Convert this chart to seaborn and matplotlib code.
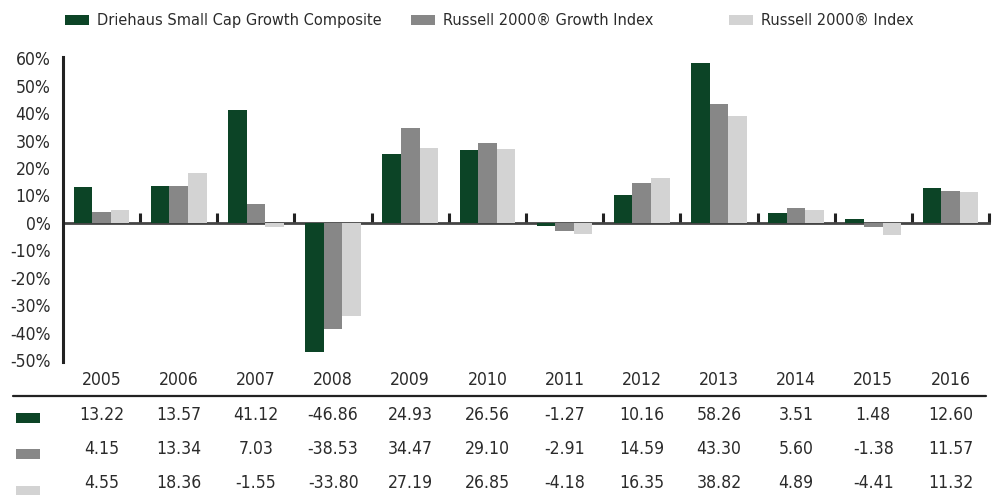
import os
import matplotlib
matplotlib.use('Agg')
import matplotlib.pyplot as plt
import matplotlib.font_manager as fm
from matplotlib.patches import Rectangle
from matplotlib.lines import Line2D
from matplotlib.transforms import blended_transform_factory
from matplotlib.ticker import FuncFormatter, FixedLocator
import seaborn as sns
import pandas as pd

# ---------------- data ----------------
years = ['2005', '2006', '2007', '2008', '2009', '2010', '2011', '2012',
         '2013', '2014', '2015', '2016']
series_names = ['Driehaus Small Cap Growth Composite',
                'Russell 2000\u00ae Growth Index',
                'Russell 2000\u00ae Index']
driehaus = [13.22, 13.57, 41.12, -46.86, 24.93, 26.56, -1.27, 10.16, 58.26, 3.51, 1.48, 12.60]
r2000g = [4.15, 13.34, 7.03, -38.53, 34.47, 29.10, -2.91, 14.59, 43.30, 5.60, -1.38, 11.57]
r2000 = [4.55, 18.36, -1.55, -33.80, 27.19, 26.85, -4.18, 16.35, 38.82, 4.89, -4.41, 11.32]
yticks = [-50, -40, -30, -20, -10, 0, 10, 20, 30, 40, 50, 60]
colors = ['#0c4426', '#878787', '#d3d3d3']

values = [driehaus, r2000g, r2000]
df = pd.DataFrame({
    'year': years * 3,
    'value': driehaus + r2000g + r2000,
    'series': [s for s in series_names for _ in years],
})

# ---------------- font ----------------
def pick_font():
    prefs = ['liberationsansnarrow-regular', 'dejavusanscondensed.ttf',
             'robotocondensed-regular', 'opensans_condensed-regular',
             'roboto-regular', 'liberationsans-regular']
    files = [f.fname for f in fm.fontManager.ttflist]
    for p in prefs:
        for fn in files:
            if p in os.path.basename(fn).lower():
                return fn
    return None

sns.set_theme(style='white')
plt.rcParams['axes.unicode_minus'] = False
fpath = pick_font()
if fpath:
    base_fp = fm.FontProperties(fname=fpath)
else:
    base_fp = fm.FontProperties(family='DejaVu Sans')

W, H = 1000, 495
fig = plt.figure(figsize=(W / 100, H / 100), dpi=100)

# adapt size so the long legend label spans ~286 px
tmp = fig.text(0, 0, series_names[0], fontproperties=base_fp, fontsize=14)
fig.canvas.draw()
wpx = tmp.get_window_extent().width
tmp.remove()
FS_LEG = 14 * min(1.08, 286.0 / wpx)
FS = FS_LEG * 1.08

def fp(size=None):
    p = base_fp.copy()
    p.set_size(FS if size is None else size)
    return p

TXT = '#2b2b2b'

def fx(px):
    return px / W

def fy(py):
    return 1 - py / H

# axes: x from 63 to 989 px, y from 57 to 362 px
ax = fig.add_axes([fx(63), fy(362), fx(989) - fx(63), fy(57) - fy(362)])

sns.barplot(data=df, x='year', y='value', hue='series', hue_order=series_names,
            order=years, palette=colors, width=0.72, saturation=1,
            linewidth=0, legend=False, ax=ax, zorder=3)

ax.set_xlim(-0.5, len(years) - 0.5)
ax.set_ylim(-50.6, 60.4)
ax.set_xlabel('')
ax.set_ylabel('')

# spines
for s in ['top', 'right']:
    ax.spines[s].set_visible(False)
ax.spines['left'].set_color('#222222')
ax.spines['left'].set_linewidth(2.2)
ax.spines['bottom'].set_position(('data', 0))
ax.spines['bottom'].set_color('#444444')
ax.spines['bottom'].set_linewidth(2.0)
ax.spines['bottom'].set_zorder(2)

# y ticks
ax.yaxis.set_major_locator(FixedLocator(yticks))
ax.yaxis.set_major_formatter(FuncFormatter(lambda v, p: f'{int(v)}%'))
ax.tick_params(axis='y', length=0, pad=9, colors=TXT)
for lab in ax.get_yticklabels():
    lab.set_fontproperties(fp())
    lab.set_color(TXT)

# x ticks: boundaries, pointing up from zero line, no labels
ax.xaxis.set_major_locator(FixedLocator([i + 0.5 for i in range(len(years))]))
ax.tick_params(axis='x', direction='in', length=7, width=2.2, color='#222222',
               labelbottom=False, bottom=True)
ax.grid(False)

# ---------------- table ----------------
tr = blended_transform_factory(ax.transData, fig.transFigure)
for i, yr in enumerate(years):
    ax.text(i, fy(380), yr, transform=tr, ha='center', va='center',
            fontproperties=fp(), color=TXT, clip_on=False)

fig.add_artist(Line2D([fx(13), fx(986)], [fy(396), fy(396)],
                      transform=fig.transFigure, color='#222222', lw=1.6))

row_y = [415, 449, 483]
sq_y = [418, 454, 491]
for r, vals in enumerate(values):
    fig.add_artist(Rectangle((fx(16), fy(sq_y[r] + 5)), fx(24), 10 / H,
                             transform=fig.transFigure, color=colors[r], lw=0))
    for i, v in enumerate(vals):
        ax.text(i, fy(row_y[r]), f'{v:.2f}', transform=tr, ha='center',
                va='center', fontproperties=fp(), color=TXT, clip_on=False)

# ---------------- legend ----------------
leg_sq_x = [65, 411, 729]
for k, name in enumerate(series_names):
    fig.add_artist(Rectangle((fx(leg_sq_x[k]), fy(25)), fx(24), 10 / H,
                             transform=fig.transFigure, color=colors[k], lw=0))
    fig.text(fx(leg_sq_x[k] + 32), fy(20), name, ha='left', va='center',
             fontproperties=fp(FS_LEG), color=TXT)

fig.savefig('out.png', dpi=100)
